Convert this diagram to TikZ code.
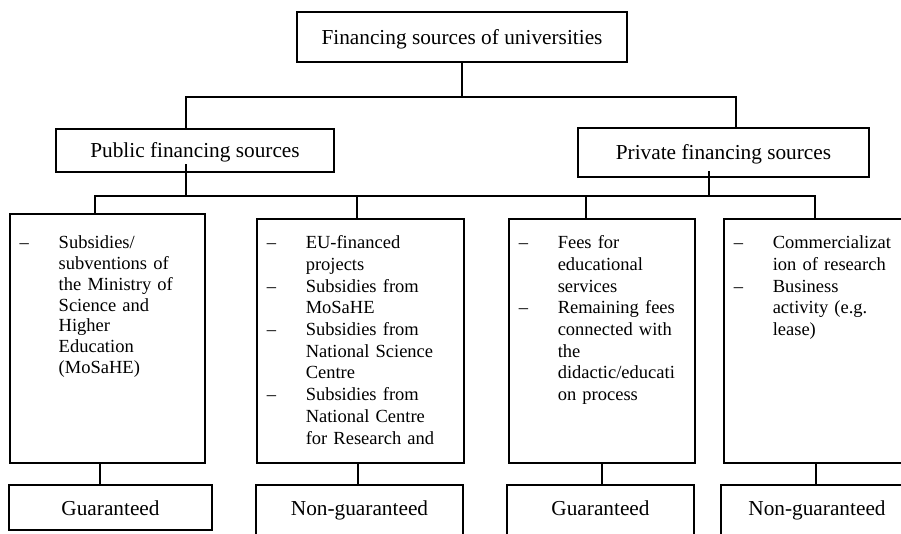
\documentclass[tikz,border=0pt]{standalone}
\usepackage{fontspec}
\setmainfont{Liberation Serif}
\usepackage{array}

\newcommand{\dashlist}[1]{\begin{tabular}[t]{@{}p{39pt}@{}l@{}}#1\end{tabular}}
\newcommand{\dsh}{\textendash}

\begin{document}
\begin{tikzpicture}[x=1pt, y=-1pt, line width=1.5pt,
    txt/.style={font=\fontsize{21.3}{24}\selectfont},
    headbox/.style={txt, draw, inner sep=0pt, text height=14.5pt, text depth=0pt},
    listbox/.style={draw, font=\fontsize{18.5}{21.7}\selectfont, anchor=north west,
        inner xsep=10pt, inner ysep=0pt, align=left, text depth=214pt},
    leafbox/.style={txt, draw, anchor=base, inner sep=0pt, text height=30pt, text depth=15pt},
    leafcut/.style={leafbox, text depth=35pt}]
    \useasboundingbox (0,0) rectangle (901,533);
    \clip (0,0) rectangle (901,533);

    % top level
    \node [headbox, minimum width=330pt, minimum height=50pt] (root) at (462,37) {Financing sources of universities};
    \node [headbox, minimum width=278pt, minimum height=43pt] (pub) at (195,150.5) {Public financing sources};
    \node [headbox, minimum width=291pt, minimum height=49pt] (priv) at (723.5,152.5) {Private financing sources};

    % source lists
    \node [listbox, text width=175pt, text height=35pt] (b1) at (9,213)
        {{\renewcommand{\arraystretch}{0.958}\dashlist{\dsh & Subsidies/\\ & subventions of\\ & the Ministry of\\
          & Science and\\ & Higher\\ & Education\\ & (MoSaHE)}}};
    \node [listbox, text width=187pt, text height=30pt] (b2) at (256,218)
        {\dashlist{\dsh & EU-financed\\ & projects\\ \dsh & Subsidies from\\ & MoSaHE\\
          \dsh & Subsidies from\\ & National Science\\ & Centre\\ \dsh & Subsidies from\\
          & National Centre\\ & for Research and}};
    \node [listbox, text width=166pt, text height=30pt] (b3) at (508,218)
        {\dashlist{\dsh & Fees for\\ & educational\\ & services\\ \dsh & Remaining fees\\
          & connected with\\ & the\\ & didactic/educati\\ & on process}};
    \node [listbox, text width=170pt, text height=30pt] (b4) at (723,218)
        {\dashlist{\dsh & Commercializat\\ & ion of research\\ \dsh & Business\\
          & activity (e.g.\\ & lease)}};

    % guarantee
    \node [leafbox, minimum width=203pt] (g1) at (110.5,515) {Guaranteed};
    \node [leafcut, minimum width=207pt] (n2) at (359.5,515) {Non-guaranteed};
    \node [leafcut, minimum width=187pt] (g3) at (600.5,515) {Guaranteed};
    \node [leafcut, minimum width=192pt] (n4) at (817,515) {Non-guaranteed};

    \coordinate (bus1L) at (186,97);
    \coordinate (bus1R) at (736,97);
    \coordinate (pubdrop) at (186,164);
    \coordinate (privdrop) at (709,171);
    \coordinate (bus2L) at (95,196);
    \coordinate (bus2R) at (815,196);
    \coordinate (d2) at (357,196);
    \coordinate (d3) at (586,196);

    \draw (root.south) -- (root.south |- bus1L);
    \draw (bus1L |- pub.north) -- (bus1L) -- (bus1R) -- (bus1R |- priv.north);

    \draw (pubdrop) -- (pubdrop |- bus2L);
    \draw (privdrop) -- (privdrop |- bus2L);
    \draw (bus2L |- b1.north) -- (bus2L) -- (bus2R) -- (bus2R |- b4.north);
    \draw (d2) -- (d2 |- b2.north);
    \draw (d3) -- (d3 |- b3.north);

    \draw ([xshift=-7.5pt]b1.south) -- ([xshift=-7.5pt]b1.south |- g1.north);
    \draw ([xshift=-2.5pt]b2.south) -- ([xshift=-2.5pt]b2.south |- n2.north);
    \draw (b3.south) -- (b3.south |- g3.north);
    \draw ([xshift=-3pt]b4.south) -- ([xshift=-3pt]b4.south |- n4.north);
\end{tikzpicture}
\end{document}
